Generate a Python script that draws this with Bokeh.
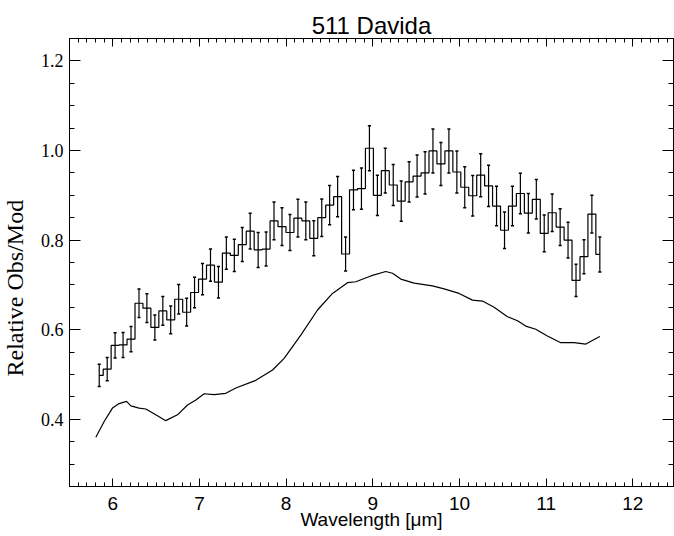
from bokeh.plotting import figure
from bokeh.models import LinearAxis, FixedTicker, Range1d, PrintfTickFormatter, Title
from bokeh.embed import file_html
from bokeh.resources import INLINE

# ---- data ----
wavelength = [5.843, 5.935, 6.026, 6.118, 6.210, 6.302, 6.393, 6.485, 6.577, 6.668,
              6.760, 6.852, 6.943, 7.035, 7.127, 7.219, 7.310, 7.402, 7.494, 7.585,
              7.677, 7.769, 7.860, 7.952, 8.044, 8.136, 8.227, 8.319, 8.411, 8.502,
              8.594, 8.686, 8.777, 8.869, 8.961, 9.053, 9.144, 9.236, 9.328, 9.419,
              9.511, 9.603, 9.694, 9.786, 9.878, 9.970, 10.061, 10.153, 10.245, 10.336,
              10.428, 10.520, 10.611, 10.703, 10.795, 10.887, 10.978, 11.070, 11.162, 11.253,
              11.345, 11.437, 11.528, 11.620]
ratio = [0.498, 0.512, 0.565, 0.566, 0.579, 0.659, 0.648, 0.605, 0.642, 0.622,
         0.668, 0.639, 0.683, 0.713, 0.744, 0.706, 0.771, 0.766, 0.790, 0.820,
         0.778, 0.780, 0.843, 0.830, 0.817, 0.849, 0.843, 0.804, 0.850, 0.878,
         0.897, 0.769, 0.912, 0.915, 1.005, 0.900, 0.955, 0.923, 0.887, 0.930,
         0.943, 0.950, 0.999, 0.970, 0.999, 0.952, 0.918, 0.899, 0.945, 0.921,
         0.876, 0.822, 0.876, 0.904, 0.860, 0.891, 0.815, 0.861, 0.829, 0.800,
         0.710, 0.763, 0.858, 0.768]
ratio_err = [0.025, 0.026, 0.028, 0.028, 0.028, 0.032, 0.032, 0.028, 0.032, 0.031,
             0.033, 0.031, 0.034, 0.035, 0.036, 0.035, 0.036, 0.036, 0.038, 0.040,
             0.039, 0.038, 0.042, 0.042, 0.040, 0.042, 0.042, 0.039, 0.042, 0.044,
             0.045, 0.038, 0.044, 0.046, 0.050, 0.045, 0.050, 0.046, 0.045, 0.045,
             0.047, 0.047, 0.049, 0.048, 0.049, 0.047, 0.046, 0.045, 0.048, 0.046,
             0.044, 0.041, 0.044, 0.045, 0.044, 0.044, 0.041, 0.042, 0.041, 0.040,
             0.036, 0.038, 0.042, 0.039]

model_wl = [5.804, 5.900, 5.996, 6.073, 6.158, 6.208, 6.303, 6.380, 6.496, 6.610,
            6.746, 6.862, 6.958, 7.054, 7.169, 7.304, 7.419, 7.650, 7.843, 7.977,
            8.169, 8.362, 8.535, 8.708, 8.804, 8.977, 9.150, 9.227, 9.323, 9.477,
            9.689, 9.823, 9.996, 10.150, 10.265, 10.400, 10.554, 10.670, 10.765, 10.880,
            11.015, 11.169, 11.323, 11.458, 11.620]
model_val = [0.360, 0.395, 0.425, 0.435, 0.440, 0.430, 0.425, 0.423, 0.410, 0.397,
             0.410, 0.432, 0.443, 0.457, 0.455, 0.458, 0.470, 0.487, 0.510, 0.536,
             0.588, 0.644, 0.681, 0.705, 0.707, 0.720, 0.730, 0.726, 0.713, 0.704,
             0.698, 0.691, 0.681, 0.666, 0.664, 0.650, 0.629, 0.620, 0.608, 0.601,
             0.586, 0.571, 0.571, 0.568, 0.585]

x_major = [6, 7, 8, 9, 10, 11, 12]
y_major = [0.4, 0.6, 0.8, 1.0, 1.2]
title_text = "511 Davida"
x_title = "Wavelength [\u03bcm]"
y_title = "Relative Obs/Mod"

# ---- figure ----
p = figure(width=674, height=536, output_backend="svg", toolbar_location=None,
           x_range=Range1d(5.5, 12.47), y_range=Range1d(0.25, 1.25),
           min_border_left=69, min_border_right=1, min_border_top=38, min_border_bottom=50)
p.background_fill_color = "white"
p.border_fill_color = "white"
p.outline_line_color = "black"
p.outline_line_width = 1
p.xgrid.visible = False
p.ygrid.visible = False

p.title.text = title_text
p.title.align = "center"
p.title.text_font = "Liberation Sans"
p.title.text_font_size = "24px"
p.title.text_font_style = "normal"
p.title.text_color = "black"
p.title.standoff = 0

x_minor = [round(5.5 + 0.1 * k, 1) for k in range(70)]
y_minor = [round(0.25 + 0.05 * k, 2) for k in range(21)]
xt = FixedTicker(ticks=x_major, minor_ticks=x_minor)
yt = FixedTicker(ticks=y_major, minor_ticks=y_minor)

def style_axis(ax, ticker, major_len, minor_len, labels, font, size, standoff):
    ax.ticker = ticker
    ax.major_tick_in = major_len
    ax.major_tick_out = 0
    ax.minor_tick_in = minor_len
    ax.minor_tick_out = 0
    ax.axis_line_color = "black"
    ax.major_tick_line_color = "black"
    ax.minor_tick_line_color = "black"
    if labels:
        ax.major_label_text_font = font
        ax.major_label_text_font_size = size
        ax.major_label_text_color = "black"
        ax.major_label_standoff = standoff
    else:
        ax.major_label_text_color = None
        ax.major_label_text_font_size = "1px"
        ax.major_label_standoff = 0

bx = p.xaxis[0]
style_axis(bx, xt, 8, 4, True, "Liberation Sans", "19px", 10)
bx.axis_label = x_title
bx.axis_label_text_font = "Liberation Sans"
bx.axis_label_text_font_size = "19px"
bx.axis_label_text_font_style = "normal"
bx.axis_label_text_color = "black"
bx.axis_label_standoff = -4

ly = p.yaxis[0]
style_axis(ly, yt, 11, 5, True, "Liberation Serif", "18px", 6)
ly.formatter = PrintfTickFormatter(format="%.1f")

tx = LinearAxis()
style_axis(tx, xt, 8, 4, False, None, None, 0)
p.add_layout(tx, "above")
ry = LinearAxis()
style_axis(ry, yt, 11, 5, False, None, None, 0)
p.add_layout(ry, "right")

# invisible spacer between the y tick labels and the y title
spacer = LinearAxis(ticker=FixedTicker(ticks=[0.3], minor_ticks=[]),
                    axis_line_color=None, major_tick_line_color=None,
                    minor_tick_line_color=None, major_tick_in=0, major_tick_out=12,
                    minor_tick_in=0, minor_tick_out=0,
                    major_label_text_color=None, major_label_text_font_size="1px",
                    major_label_standoff=0)
p.add_layout(spacer, "left")

# y title placed like the reference (below the frame centre)
p.add_layout(Title(text=y_title, align="left", offset=110, standoff=-4,
                   text_font="Liberation Serif", text_font_size="24px",
                   text_font_style="normal", text_color="black"), "left")

# ---- data glyphs ----
p.line(model_wl, model_val, line_color="black", line_width=1.2)

p.step(wavelength, ratio, mode="center", line_color="black", line_width=1.2)
lo = [v - e for v, e in zip(ratio, ratio_err)]
hi = [v + e for v, e in zip(ratio, ratio_err)]
p.segment(x0=wavelength, y0=lo, x1=wavelength, y1=hi, line_color="black", line_width=1.2)
cap = 0.018
p.segment(x0=[w - cap for w in wavelength], y0=lo, x1=[w + cap for w in wavelength], y1=lo,
          line_color="black", line_width=1.5)
p.segment(x0=[w - cap for w in wavelength], y0=hi, x1=[w + cap for w in wavelength], y1=hi,
          line_color="black", line_width=1.5)

open("out.html", "w").write(file_html(p, INLINE))
